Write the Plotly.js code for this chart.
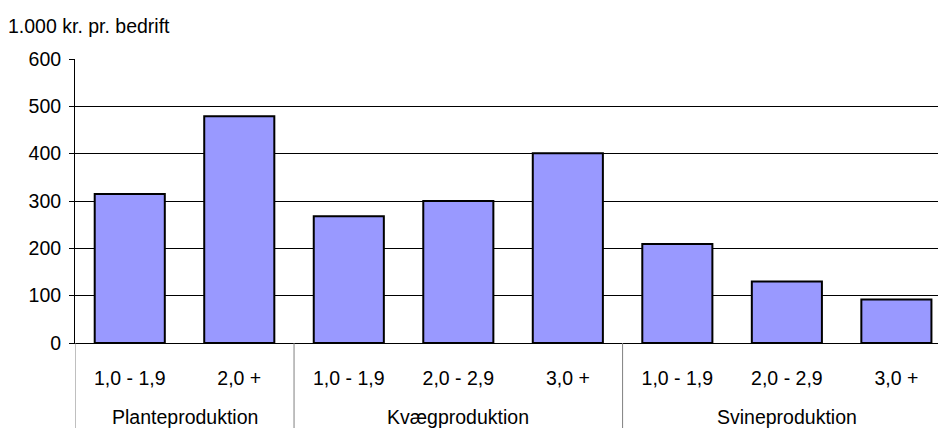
<!DOCTYPE html>
<html>
<head>
<meta charset="utf-8">
<script src="https://cdn.plot.ly/plotly-3.0.1.min.js"></script>
<style>html,body{margin:0;padding:0;background:#fff;}</style>
</head>
<body>
<div id="chart" style="width:938px;height:428px;"></div>
<script>
const groups = ['Planteproduktion','Planteproduktion','Kvægproduktion','Kvægproduktion','Kvægproduktion','Svineproduktion','Svineproduktion','Svineproduktion'];
const sizes = ['1,0 - 1,9','2,0 +','1,0 - 1,9','2,0 - 2,9','3,0 +','1,0 - 1,9','2,0 - 2,9','3,0 +'];
const values = [315, 479, 268, 300, 401, 209, 130, 92];
const yTicks = [0, 100, 200, 300, 400, 500, 600];
const yTitle = '1.000 kr. pr. bedrift';

const FONT = 'Liberation Sans, Arial, sans-serif';
const FS = 19.5;

const idx = sizes.map((_, i) => i);

// group spans derived from the groups array
const spans = [];
groups.forEach((g, i) => {
  if (!spans.length || spans[spans.length - 1].name !== g) spans.push({name: g, start: i, end: i});
  else spans[spans.length - 1].end = i;
});

const annotations = spans.map(s => ({
  text: s.name, x: (s.start + s.end) / 2, xref: 'x',
  y: 0, yref: 'paper', yanchor: 'middle', yshift: -74,
  showarrow: false, font: {family: FONT, size: FS, color: '#000'}
}));

const bounds = [spans[0].start - 0.5].concat(spans.map(s => s.end + 0.5));
const shapes = bounds.map(b => ({
  type: 'line', xref: 'x', yref: 'paper',
  x0: b, x1: b, y0: 0, y1: -0.31,
  line: {color: '#808080', width: 1}
}));

const trace = {
  type: 'bar',
  x: idx,
  y: values,
  marker: {color: '#9999FF', line: {color: '#000000', width: 2}},
  hoverinfo: 'skip'
};

const layout = {
  width: 938, height: 428,
  margin: {l: 75, r: 0, t: 59, b: 85, pad: 0},
  paper_bgcolor: '#ffffff', plot_bgcolor: '#ffffff',
  font: {family: FONT, size: FS, color: '#000'},
  showlegend: false,
  bargap: 0.36,
  title: {
    text: yTitle, font: {family: FONT, size: FS, color: '#000'},
    x: 8/938, xanchor: 'left', xref: 'container',
    y: 1 - 26/428, yanchor: 'middle', yref: 'container'
  },
  xaxis: {
    type: 'linear',
    range: [-0.5, 7.38],
    tickvals: idx, ticktext: sizes,
    showline: true, linecolor: '#000', linewidth: 1,
    ticks: '', ticklabelstandoff: 18,
    showgrid: false, zeroline: false,
    tickfont: {family: FONT, size: FS, color: '#000'}
  },
  yaxis: {
    range: [0, 600],
    tickvals: yTicks,
    ticktext: yTicks.map(String),
    showline: true, linecolor: '#000', linewidth: 1,
    ticks: 'outside', ticklen: 5, tickcolor: '#000',
    ticklabelstandoff: 4,
    showgrid: true, gridcolor: '#000', gridwidth: 1,
    zeroline: false,
    tickfont: {family: FONT, size: FS, color: '#000'}
  },
  annotations: annotations,
  shapes: shapes
};

Plotly.newPlot('chart', [trace], layout, {displayModeBar: false, staticPlot: true});
</script>
</body>
</html>
